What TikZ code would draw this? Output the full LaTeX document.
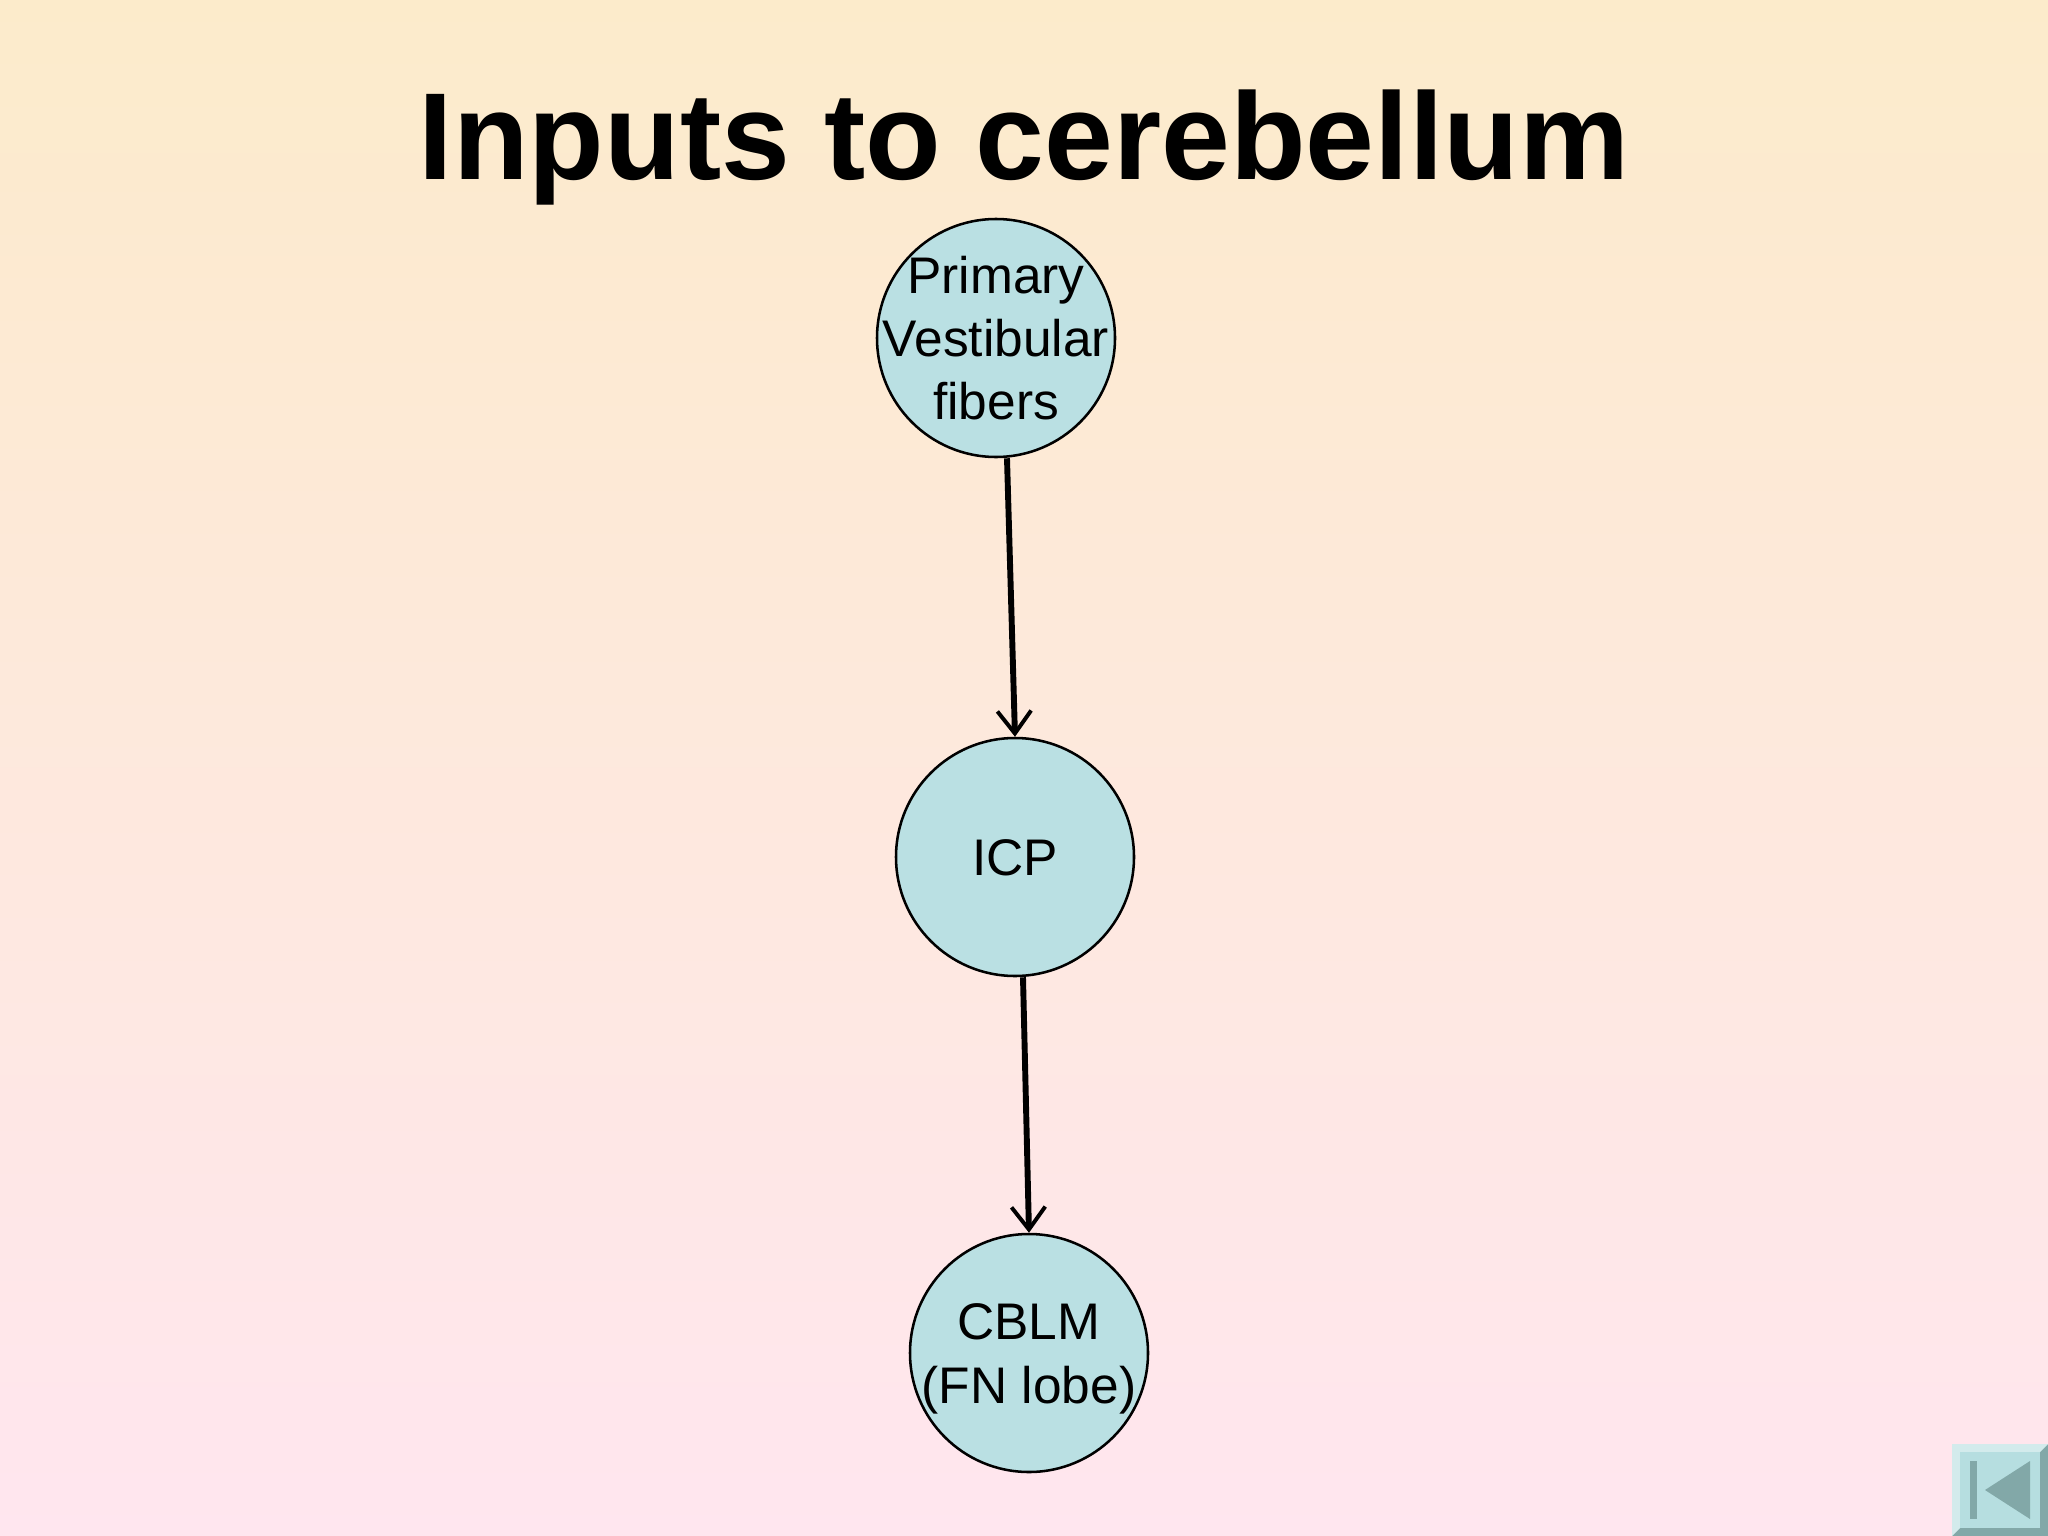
\documentclass[tikz,border=0pt]{standalone}
\usepackage{fontspec}
\setmainfont{Liberation Sans}
\usetikzlibrary{arrows.meta}
\definecolor{bgtop}{HTML}{FCEBCB}
\definecolor{bgbot}{HTML}{FFE6EF}
\definecolor{cfill}{HTML}{BAE0E3}
\definecolor{btn}{HTML}{B6DEE0}
\definecolor{btnd}{HTML}{82A8A8}
\newcommand{\ctext}[1]{\smash{\makebox[0pt]{\raisebox{-0.35em}{\begin{tabular}{@{}c@{}}#1\end{tabular}}}}}
\begin{document}
\begin{tikzpicture}[x=0.0125cm,y=-0.0125cm,
  circ/.style={circle,draw=black,line width=0.9pt,fill=cfill,minimum size={238*0.0125cm},inner sep=0pt,font=\fontsize{18.3}{22.5}\selectfont},
  conn/.style={line width=2.1pt,-{Straight Barb[length=8pt,width=12pt,line width=1.4pt]}}]
\shade[top color=bgtop,bottom color=bgbot] (0,0) rectangle (2048,1536);
\useasboundingbox (0,0) rectangle (2048,1536);
\node[font=\bfseries\fontsize{44}{48}\selectfont] (title) at (1024,148) {Inputs to cerebellum};
\node[circ] (pv) at (996,338) {\ctext{Primary\\Vestibular\\fibers}};
\node[circ] (icp) at (1015,857) {\ctext{ICP}};
\node[circ] (cblm) at (1029,1353) {\ctext{CBLM\\(FN lobe)}};
\draw[conn] ([xshift=11*0.0125cm]pv.south) -- (icp.north);
\draw[conn] ([xshift=8*0.0125cm]icp.south) -- (cblm.north);
% back button
\fill[btnd] (1952,1444) rectangle (2048,1536);
\fill[btn!60!white] (1952,1444) -- (2048,1444) -- (2040,1452) -- (1960,1452) -- (1960,1528) -- (1952,1536) -- cycle;
\fill[btn] (1960,1452) rectangle (2040,1528);
\fill[btnd] (1970,1461) rectangle (1977,1519);
\fill[btnd] (1985,1490) -- (2030,1461) -- (2030,1519) -- cycle;
\end{tikzpicture}
\end{document}
